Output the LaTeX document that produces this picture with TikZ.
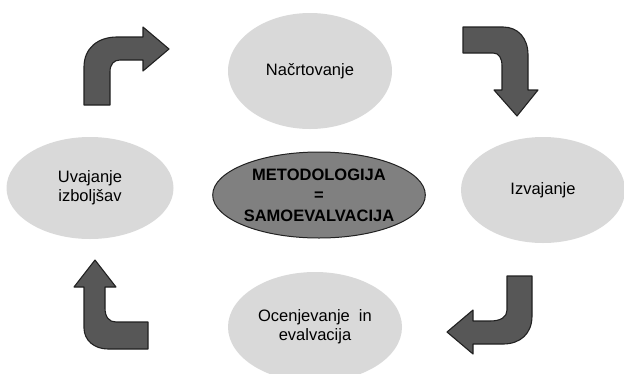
\documentclass[tikz,border=0pt]{standalone}
\usepackage{fontspec}
\setmainfont{Liberation Sans}
\usetikzlibrary{shapes.geometric}
\definecolor{phasegray}{gray}{0.85}
\definecolor{coregray}{gray}{0.50}
\definecolor{turngray}{gray}{0.34}
\definecolor{edgegray}{gray}{0.13}
\tikzstyle{phase}=[ellipse,fill=phasegray,inner sep=0pt,align=center,font=\fontsize{16.5}{19}\selectfont]
\tikzstyle{core}=[ellipse,fill=coregray,draw=edgegray,line width=1pt,inner sep=0pt,align=center,font=\bfseries\fontsize{16.5}{20.5}\selectfont]
\tikzstyle{turn}=[fill=turngray,draw=edgegray,line width=1.1pt,line join=round]

\begin{document}
\begin{tikzpicture}[x=1pt,y=-1pt]
\useasboundingbox (0,0) rectangle (624,373);
\clip (0,0) rectangle (624,373);

\node[phase,minimum width=164pt,minimum height=116pt] (plan) at (310,71) {Načrtovanje};
\node[phase,minimum width=164pt,minimum height=106pt] (impl) at (543,190) {Izvajanje};
\node[phase,minimum width=167pt,minimum height=102pt] (adopt) at (90,188) {Uvajanje\\izboljšav};
\node[phase,minimum width=174pt,minimum height=110pt] (assess) at (315,327) {Ocenjevanje\ \ in\\evalvacija};

\node[core,minimum width=202pt,minimum height=86pt] (core) at (319,195) {METODOLOGIJA\\=\\SAMOEVALVACIJA};

% up, then right
\draw[turn] (84,105) -- (84,67) .. controls (84,48) and (98,37) .. (117,37) -- (143,37) -- (143,27) -- (169,49) -- (143,71) -- (143,60) -- (120,60) .. controls (114,60) and (110,64) .. (110,72) -- (110,105) -- cycle;
% right, then down
\draw[turn] (463,27) -- (503,27) .. controls (518,27) and (528,38) .. (528,55) -- (528,90) -- (538,90) -- (517,116) -- (494,90) -- (502,90) -- (502,66) .. controls (502,58) and (499,53) .. (493,53) -- (463,53) -- cycle;
% down, then left
\draw[turn] (507,276) -- (532,276) -- (532,316) .. controls (532,334) and (520,344) .. (503,344) -- (473,344) -- (473,354) -- (447,332) -- (473,310) -- (473,321) -- (490,321) .. controls (501,321) and (507,317) .. (507,310) -- cycle;
% left, then up
\draw[turn] (148,322) -- (148,349) -- (108,349) .. controls (94,349) and (84,340) .. (84,328) -- (84,287) -- (74,287) -- (95,260) -- (116,287) -- (105,287) -- (105,308) .. controls (105,317) and (109,322) .. (116,322) -- cycle;

\end{tikzpicture}
\end{document}
